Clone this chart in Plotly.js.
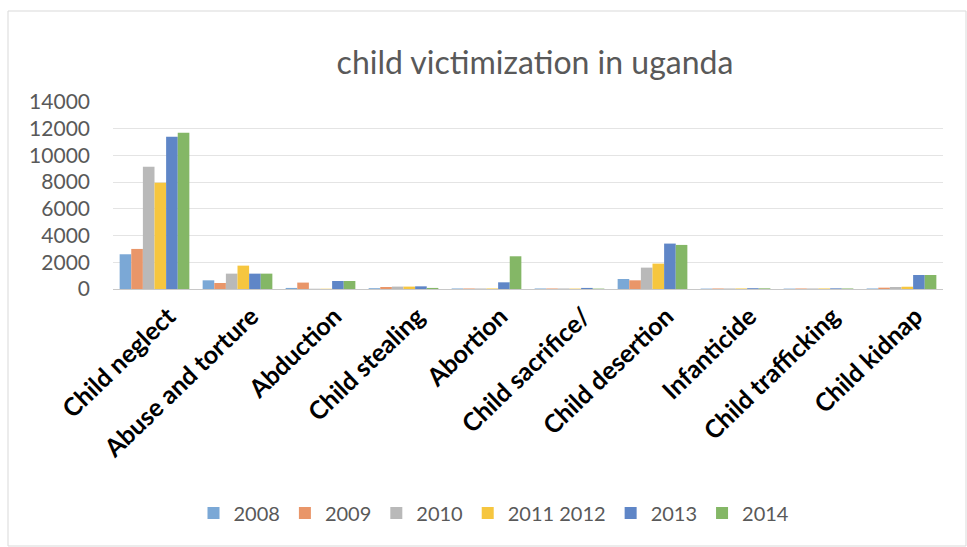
<!DOCTYPE html>
<html>
<head>
<meta charset="utf-8">
<script src="https://cdn.plot.ly/plotly-3.0.1.min.js"></script>
<style>html,body{margin:0;padding:0;background:#fff;}#chart{width:967px;height:547px;}</style>
</head>
<body>
<div id="chart"></div>
<script>
const categories = ["Child neglect", "Abuse and torture", "Abduction", "Child stealing", "Abortion",
  "Child sacrifice/", "Child desertion", "Infanticide", "Child trafficking", "Child kidnap"];
const seriesNames = ["2008", "2009", "2010", "2011 2012", "2013", "2014"];
const v2008 = [2600, 650, 80, 60, 40, 40, 750, 30, 30, 40];
const v2009 = [3000, 450, 480, 150, 40, 40, 650, 40, 40, 100];
const v2010 = [9150, 1150, 20, 180, 40, 40, 1600, 40, 40, 150];
const v2011 = [7950, 1750, 20, 180, 40, 30, 1900, 40, 40, 170];
const v2013 = [11400, 1150, 600, 200, 500, 80, 3400, 60, 50, 1050];
const v2014 = [11700, 1150, 600, 80, 2450, 30, 3300, 50, 40, 1050];
const yTicks = [0, 2000, 4000, 6000, 8000, 10000, 12000, 14000];
const colors = ["#7ba8d6", "#e99669", "#b9b9b9", "#f6c63f", "#5f86c7", "#84b766"];

const values = [v2008, v2009, v2010, v2011, v2013, v2014];
const traces = values.map((vals, i) => ({
  type: "bar",
  name: seriesNames[i],
  x: categories,
  y: vals,
  marker: {color: colors[i], line: {width: 0}},
  hoverinfo: "x+y+name"
}));

const L = 113, R = 943, T = 102, B = 289;
const W = 967, H = 547;
const px2x = p => (p - L) / (R - L);
const py2y = p => (B - p) / (B - T);

const layout = {
  width: W, height: H,
  margin: {l: L, r: W - R, t: T, b: H - B, pad: 0},
  paper_bgcolor: "#ffffff",
  plot_bgcolor: "#ffffff",
  font: {family: "Lato, 'Open Sans', sans-serif", color: "#595959"},
  title: {
    text: "child victimization in uganda",
    font: {family: "Lato, sans-serif", size: 32, color: "#595959"},
    xref: "container", x: 535 / W, xanchor: "center",
    yref: "container", y: 1 - 63 / H, yanchor: "middle"
  },
  barmode: "group",
  bargap: 0.16,
  bargroupgap: 0,
  xaxis: {
    type: "category",
    tickangle: -44,
    tickfont: {family: "Lato, sans-serif", size: 25, color: "#000000", weight: "bold"},
    showgrid: false,
    showline: true, linecolor: "#c8c8c8", linewidth: 1,
    ticks: "", zeroline: false, ticklabelstandoff: 2, ticklabelshift: 14
  },
  yaxis: {
    range: [0, 14000],
    tickvals: yTicks,
    ticktext: yTicks.map(String),
    tickfont: {family: "Lato, sans-serif", size: 21, color: "#595959"},
    showgrid: true, gridcolor: "#e4e4e4", gridwidth: 1,
    zeroline: false, showline: false,
    ticks: "", ticklabelstandoff: 22
  },
  legend: {
    orientation: "h",
    xref: "container", x: 494 / W, xanchor: "center",
    yref: "container", y: 1 - 513 / H, yanchor: "middle",
    font: {family: "Lato, sans-serif", size: 20, color: "#595959"},
    itemwidth: 30,
    traceorder: "normal",
    bgcolor: "rgba(0,0,0,0)"
  },
  shapes: [{
    type: "rect", xref: "paper", yref: "paper",
    x0: px2x(8), x1: px2x(966), y0: py2y(546), y1: py2y(11),
    line: {color: "#d9d9d9", width: 1}, fillcolor: "rgba(0,0,0,0)", layer: "below"
  }]
};

Plotly.newPlot("chart", traces, layout, {displayModeBar: false, staticPlot: true});
</script>
</body>
</html>
